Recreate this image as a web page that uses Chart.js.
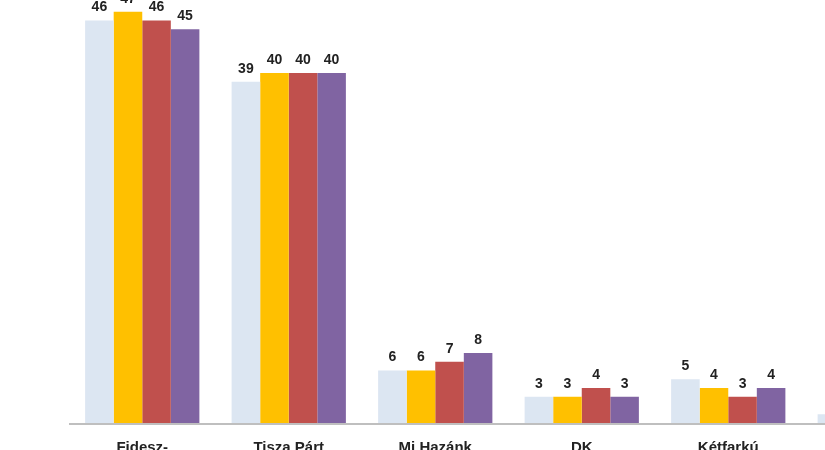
<!DOCTYPE html>
<html><head><meta charset="utf-8">
<script src="https://cdn.jsdelivr.net/npm/chart.js@4"></script>
<style>html,body{margin:0;padding:0;overflow:hidden;background:#fff}#w{position:absolute;left:0;top:0;width:1000px;height:500px}</style>
</head><body><div id="w"><canvas id="c"></canvas></div>
<script>
const categories=[["Fidesz-","KDNP"],["Tisza Párt"],["Mi Hazánk"],["DK"],["Kétfarkú","Kutya Párt"],["Egyéb"]];
const series1=[46,39,6,3,5,1];
const series2=[47,40,6,3,4,1];
const series3=[46,40,7,4,3,1];
const series4=[45,40,8,3,4,1];
const colors=["#dce6f2","#ffc000","#c0504d","#8064a2"];
const overlay={id:'overlay',afterDatasetsDraw(ch){
  const ctx=ch.ctx,a=ch.chartArea;
  ctx.save();
  ctx.strokeStyle='#bfbfbf';ctx.lineWidth=2;
  ctx.beginPath();ctx.moveTo(a.left,a.bottom+1);ctx.lineTo(a.right,a.bottom+1);ctx.stroke();
  ctx.fillStyle='#222';ctx.font='bold 14px Arial, "Liberation Sans"';ctx.textAlign='center';ctx.textBaseline='bottom';
  ch.data.datasets.forEach((ds,i)=>{ch.getDatasetMeta(i).data.forEach((b,j)=>{ctx.fillText(ds.data[j],b.x,b.y-6);});});
  ctx.font='bold 15px Arial, "Liberation Sans"';ctx.textBaseline='top';
  const xs=ch.scales.x;
  categories.forEach((c,j)=>{c.forEach((t,k)=>ctx.fillText(t,xs.getPixelForValue(j),a.bottom+17+k*18));});
  ctx.restore();}};
new Chart(document.getElementById('c'),{type:'bar',
data:{labels:categories.map(c=>c.join(' ')),datasets:[series1,series2,series3,series4].map((d,i)=>({data:d,backgroundColor:colors[i],categoryPercentage:0.78,barPercentage:1}))},
options:{responsive:true,maintainAspectRatio:false,animation:false,
layout:{padding:{left:69,right:52,top:3,bottom:77}},
plugins:{legend:{display:false},tooltip:{enabled:false}},
scales:{x:{display:false},y:{display:false,min:0,max:48}}},
plugins:[overlay]});
</script></body></html>
